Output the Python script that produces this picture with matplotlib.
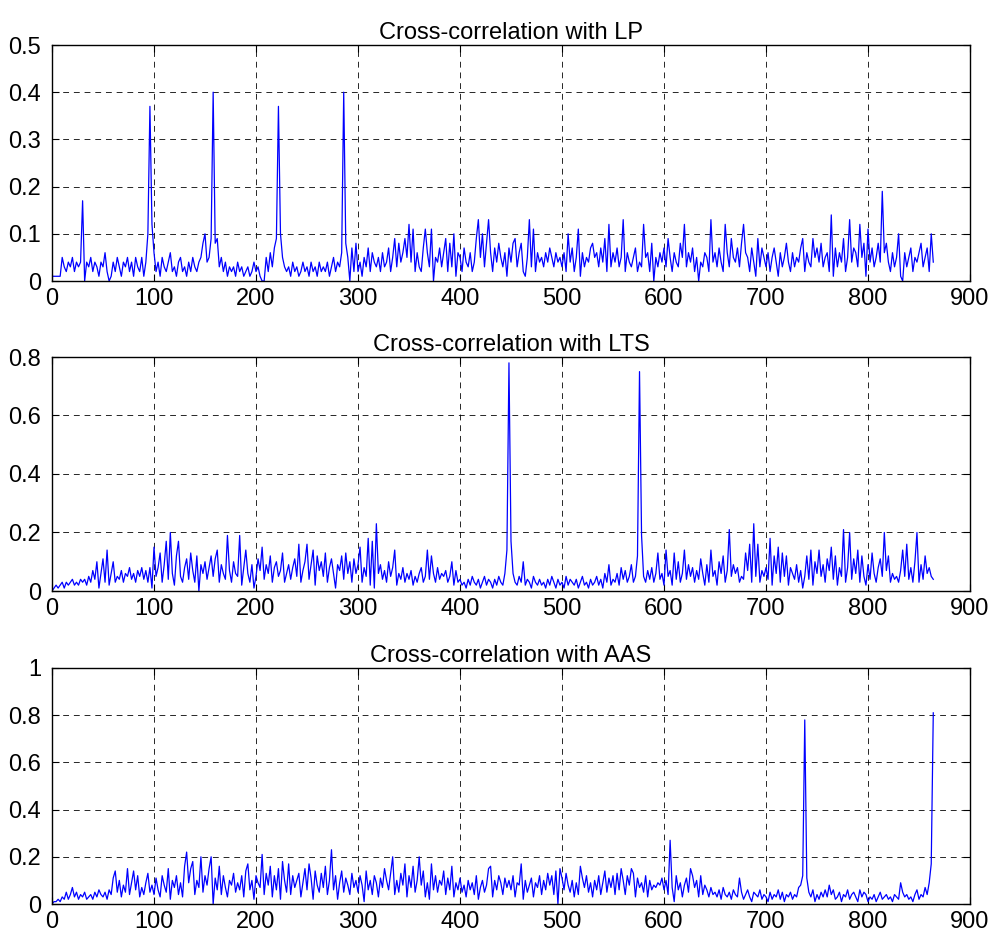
import numpy as np
import matplotlib
matplotlib.use("Agg")
import matplotlib.pyplot as plt

# sample positions (every 2nd lag)
lags = list(range(0, 865, 2))

# Cross-correlation with LP (values in hundredths)
lp_pct = [
    1,1,1,1,1,5,3,2,4,3,5,2,4,3,4,17,0,4,3,5,2,4,3,1,4,
    3,6,2,0,1,4,2,5,3,1,4,3,5,2,4,1,5,3,2,5,1,4,10,37,12,
    6,2,4,1,5,3,2,4,6,2,3,1,4,5,2,3,1,4,2,5,3,2,4,5,8,
    10,4,5,9,40,8,9,3,5,2,4,1,3,2,3,1,4,2,3,1,2,3,1,2,4,
    2,3,1,0,0,5,2,6,3,7,9,37,10,5,3,2,3,1,4,2,3,1,2,4,2,
    3,1,4,2,3,1,4,2,3,2,4,1,3,5,2,4,3,6,40,8,5,0,7,2,8,
    2,4,1,5,3,7,2,6,4,3,5,2,6,3,4,7,2,5,9,3,8,4,6,9,5,
    12,4,11,2,6,3,2,7,11,6,3,11,0,5,4,7,3,6,9,2,8,3,10,1,6,
    5,2,7,4,3,6,2,4,9,13,5,10,3,8,13,6,2,7,4,8,5,3,6,1,7,
    4,8,9,3,6,8,2,1,5,13,3,11,2,6,4,5,3,6,4,7,5,3,6,4,5,
    3,6,2,10,4,7,2,5,11,1,6,3,5,4,7,8,5,6,3,7,4,9,2,12,3,
    6,4,7,3,5,13,2,6,4,3,5,7,2,4,3,12,5,6,2,8,0,5,3,6,4,
    7,3,9,5,2,6,4,3,8,5,12,3,6,4,7,2,5,0,4,3,6,5,2,13,4,
    6,3,7,4,2,12,6,3,9,5,4,7,3,8,12,6,5,2,7,4,1,9,3,7,5,
    3,6,2,5,7,4,1,6,3,5,8,4,2,6,3,5,4,7,9,2,6,4,3,9,5,
    7,4,8,3,5,6,2,14,1,7,3,6,4,9,2,5,13,4,7,6,3,12,5,8,1,
    11,4,7,3,5,8,4,19,6,8,4,2,6,3,5,10,1,0,6,3,5,7,2,5,4,
    6,8,3,5,7,2,10,4,
]

# Cross-correlation with LTS (values in hundredths)
lts_pct = [
    0,1,2,1,2,3,1,3,2,3,4,2,3,2,4,3,4,2,5,3,7,4,10,1,6,
    11,3,14,2,6,10,3,5,4,7,3,6,5,8,4,6,3,7,5,8,4,7,3,8,1,
    15,5,8,13,3,9,17,4,20,6,2,12,17,5,3,8,11,4,13,7,3,12,0,9,6,
    10,4,8,12,5,11,14,3,9,6,4,19,7,3,10,6,5,19,2,8,14,6,3,9,1,
    5,11,7,15,4,9,6,12,3,8,10,5,7,13,3,6,9,4,8,11,5,16,3,7,10,
    16,4,9,14,2,12,7,10,5,13,3,8,11,6,1,9,7,12,4,13,6,10,3,11,6,
    9,15,3,8,5,18,2,17,1,23,6,9,4,7,3,10,5,8,14,2,6,4,8,3,6,
    4,7,2,5,3,6,8,3,5,14,4,12,6,3,8,4,6,5,7,3,5,10,2,7,3,
    4,2,3,1,4,2,5,3,2,4,1,3,5,2,4,3,1,4,2,5,3,2,6,14,78,
    17,6,3,2,5,3,10,2,4,3,1,5,3,2,4,2,3,1,4,2,5,3,1,4,2,
    3,1,5,2,4,3,2,4,1,3,5,2,3,1,4,2,3,5,2,4,1,6,3,9,2,
    4,3,6,2,8,4,7,3,5,9,3,5,12,75,19,5,3,7,4,8,3,6,13,4,6,
    2,14,5,7,2,13,4,10,3,6,14,4,9,5,8,3,7,4,11,6,2,9,3,14,5,
    7,2,10,6,12,3,7,21,5,9,6,8,3,5,4,13,7,16,3,23,5,16,3,7,5,
    8,4,18,2,12,6,15,3,13,5,12,2,8,6,4,9,3,7,1,5,12,4,14,2,10,
    6,14,5,9,3,11,7,15,4,12,2,8,5,21,3,8,20,4,11,6,14,3,12,5,2,
    9,4,13,6,3,8,11,5,20,7,12,3,6,4,5,3,7,14,5,16,4,8,3,10,20,
    3,9,4,12,6,8,5,4,
]

# Cross-correlation with AAS (values in hundredths)
aas_pct = [
    0,1,1,2,1,3,2,5,2,4,7,3,5,2,4,3,5,2,3,4,2,5,3,6,4,
    3,5,2,6,4,11,14,5,10,3,8,5,15,4,9,14,6,12,3,7,4,9,13,5,8,
    4,11,6,3,12,8,5,15,2,10,7,12,4,9,3,16,22,9,15,18,4,10,7,20,5,
    12,8,15,20,0,11,6,16,4,12,7,3,10,8,13,5,9,6,12,3,14,17,6,10,2,
    12,9,7,21,4,13,8,16,3,12,6,15,2,18,10,5,17,4,12,7,10,13,3,9,15,
    6,17,11,2,14,8,5,13,7,16,4,10,23,6,12,2,9,14,5,11,8,4,13,7,10,
    5,12,8,1,14,6,10,4,12,9,3,11,7,15,10,6,13,20,4,10,5,13,8,17,3,
    12,7,16,5,10,20,8,14,3,9,2,17,6,12,5,10,8,14,4,11,6,16,3,9,6,
    11,5,8,3,10,6,9,4,12,2,7,10,5,8,15,16,3,10,6,12,9,4,11,7,10,
    6,12,3,9,8,17,2,10,5,8,11,3,9,7,12,4,10,6,13,8,12,4,14,0,15,
    11,6,13,8,5,10,3,9,4,16,11,7,12,5,9,3,10,6,12,4,9,14,5,11,7,
    12,4,13,6,15,10,4,12,8,15,13,3,11,7,9,5,12,3,10,6,8,7,9,8,11,
    6,10,4,27,7,1,12,6,9,3,8,11,5,15,12,7,10,3,12,4,8,6,3,7,4,
    5,3,6,2,7,4,3,5,2,6,4,3,11,5,2,4,6,3,1,5,4,3,6,2,4,
    3,1,5,2,4,3,6,2,5,1,4,3,5,2,4,3,7,8,12,78,11,5,3,6,1,
    4,2,5,3,6,3,8,4,6,2,3,5,1,4,3,6,2,4,5,3,1,6,3,5,4,
    1,3,2,4,1,3,5,2,3,4,2,3,1,4,3,2,9,5,3,4,2,3,1,4,6,
    2,4,3,7,4,9,17,81,
]

titles = ["Cross-correlation with LP", "Cross-correlation with LTS",
          "Cross-correlation with AAS"]
ylims = [0.5, 0.8, 1.0]
yticks = [[0, 0.1, 0.2, 0.3, 0.4, 0.5],
          [0, 0.2, 0.4, 0.6, 0.8],
          [0, 0.2, 0.4, 0.6, 0.8, 1]]
ytick_labels = [["0", "0.1", "0.2", "0.3", "0.4", "0.5"],
                ["0", "0.2", "0.4", "0.6", "0.8"],
                ["0", "0.2", "0.4", "0.6", "0.8", "1"]]
xticks = [0, 100, 200, 300, 400, 500, 600, 700, 800, 900]

plt.rcParams['font.family'] = ['Liberation Sans', 'DejaVu Sans']

fig = plt.figure(figsize=(9.95, 9.38), dpi=100)
W, H = 995.0, 938.0
boxes = [(52, 45, 970, 281), (52, 357, 970, 591), (52, 668, 970, 904)]

for i, series in enumerate([lp_pct, lts_pct, aas_pct]):
    l, t, r, b = boxes[i]
    ax = fig.add_axes([l / W, 1 - b / H, (r - l) / W, (b - t) / H])
    vals = np.array(series) / 100.0
    ax.plot(lags[:len(vals)], vals, color=(0, 0, 1), lw=0.9)
    ax.set_xlim(0, 900)
    ax.set_ylim(0, ylims[i])
    ax.set_xticks(xticks)
    ax.set_xticklabels([str(v) for v in xticks])
    ax.set_yticks(yticks[i])
    ax.set_yticklabels(ytick_labels[i])
    ax.tick_params(direction='in', top=True, right=True, labelsize=17,
                   length=5, width=0.8)
    ax.tick_params(axis='x', pad=5)
    ax.tick_params(axis='y', pad=8)
    ax.grid(True, color='k', linestyle=(0, (6, 5)), linewidth=0.7, alpha=0.85)
    for s in ax.spines.values():
        s.set_linewidth(1.0)
    ax.set_title(titles[i], fontsize=17, pad=4)

fig.savefig("out.png", dpi=100)
